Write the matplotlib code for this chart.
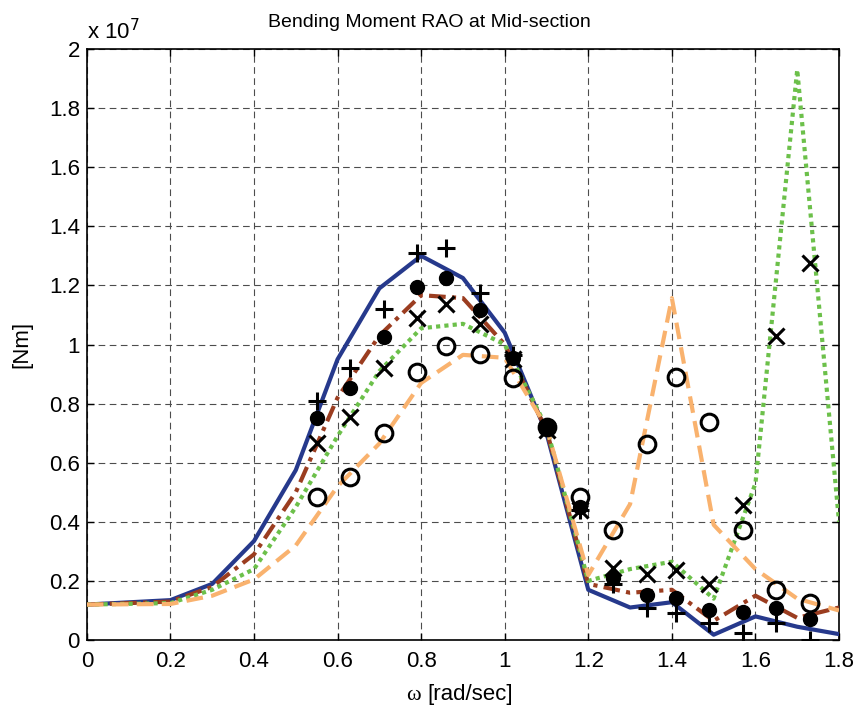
import numpy as np
import matplotlib
matplotlib.use("Agg")
import matplotlib.pyplot as plt
from matplotlib.ticker import FuncFormatter

plt.rcParams['font.family'] = ['Liberation Sans', 'DejaVu Sans']

# --- data (bending moment in Nm) ---
omega_line = [0.0, 0.2, 0.3, 0.4, 0.5, 0.6, 0.7, 0.8, 0.9, 1.0, 1.1, 1.2,
              1.3, 1.4, 1.5, 1.6, 1.7, 1.8]
line_blue = [0.12, 0.135, 0.19, 0.335, 0.575, 0.95, 1.19, 1.30, 1.225, 1.04, 0.70, 0.17,
             0.11, 0.128, 0.018, 0.08, 0.045, 0.02]
line_brown = [0.12, 0.13, 0.18, 0.29, 0.50, 0.82, 1.03, 1.167, 1.157, 1.0, 0.71, 0.19,
              0.16, 0.17, 0.065, 0.15, 0.075, 0.11]
line_green = [0.12, 0.125, 0.17, 0.24, 0.45, 0.69, 0.91, 1.055, 1.07, 1.0, 0.72, 0.20,
              0.24, 0.265, 0.14, 0.53, 1.93, 0.40]
line_orange = [0.12, 0.122, 0.15, 0.205, 0.32, 0.52, 0.665, 0.87, 0.965, 0.955, 0.72, 0.22,
               0.46, 1.157, 0.39, 0.24, 0.14, 0.10]

omega_pts = [0.55, 0.63, 0.71, 0.79, 0.86, 0.94, 1.02, 1.10, 1.18, 1.26, 1.34, 1.41,
             1.49, 1.57, 1.65, 1.73]
pts_plus = [0.81, 0.92, 1.12, 1.31, 1.325, 1.175, 0.965, 0.72, 0.44, 0.19, 0.11, 0.09,
            0.057, 0.024, 0.057, 0.0]
pts_dot = [0.75, 0.853, 1.025, 1.195, 1.225, 1.117, 0.955, 0.72, 0.45, 0.21, 0.153, 0.142,
           0.10, 0.096, 0.107, 0.07]
pts_x = [0.667, 0.756, 0.92, 1.09, 1.137, 1.07, 0.95, 0.71, 0.44, 0.243, 0.223, 0.237,
         0.19, 0.457, 1.03, 1.275]
pts_o = [0.485, 0.55, 0.70, 0.906, 0.995, 0.967, 0.887, 0.72, 0.485, 0.372, 0.663, 0.89,
         0.738, 0.372, 0.17, 0.125]

scale = 1e7
fs = 16

fig = plt.figure(figsize=(8.6, 7.08), dpi=100)
ax = fig.add_axes([0.101, 0.096, 0.8746, 0.8348])

ax.plot(omega_line, np.array(line_blue) * scale, color='#26398c', lw=3.0, zorder=3)
ax.plot(omega_line, np.array(line_brown) * scale, color='#9b3d20', lw=3.0,
        linestyle=(0, (4, 1.5, 1, 1.5)), zorder=3)
ax.plot(omega_line, np.array(line_green) * scale, color='#6cc04a', lw=3.0,
        linestyle=(0, (1, 1)), zorder=3)
ax.plot(omega_line, np.array(line_orange) * scale, color='#f9b26e', lw=3.0,
        linestyle=(0, (4, 2)), zorder=3)

ax.plot(omega_pts, np.array(pts_plus) * scale, '+', color='black', ms=13, mew=2.2, zorder=4)
ax.plot(omega_pts, np.array(pts_dot) * scale, 'o', color='black', ms=10, zorder=4)
ax.plot(omega_pts, np.array(pts_x) * scale, 'x', color='black', ms=12, mew=2.2, zorder=4)
ax.plot(omega_pts, np.array(pts_o) * scale, 'o', mfc='none', mec='black', ms=12, mew=2.2, zorder=4)

ax.set_xlim(0, 1.8)
ax.set_ylim(0, 2e7)
ax.set_xticks(np.arange(0, 1.81, 0.2))
ax.set_yticks(np.arange(0, 2.01e7, 0.2e7))
ax.xaxis.set_major_formatter(FuncFormatter(lambda v, p: f"{v:.1f}".rstrip('0').rstrip('.')))
ax.yaxis.set_major_formatter(FuncFormatter(lambda v, p: f"{v / scale:.1f}".rstrip('0').rstrip('.')))
ax.tick_params(direction='in', top=True, right=True, labelsize=fs, length=5, width=1)
ax.tick_params(axis='x', pad=8)
ax.tick_params(axis='y', pad=5)
ax.grid(True, color='0.3', linestyle=(0, (6, 4)), lw=0.8)
for s in ax.spines.values():
    s.set_linewidth(1.2)

ax.text(0.0, 1.008, 'x 10$^{7}$', transform=ax.transAxes, fontsize=fs, ha='left', va='bottom')
ax.set_title('Bending Moment RAO at Mid-section', fontsize=14, pad=16, x=0.456)
ax.set_ylabel('[Nm]', fontsize=fs, labelpad=12)

# x label: serif omega followed by sans text
ax.text(0.424, -0.1015, 'ω', transform=ax.transAxes, fontsize=fs,
        family=['Liberation Serif', 'DejaVu Serif'], ha='left', va='baseline')
ax.text(0.453, -0.1015, '[rad/sec]', transform=ax.transAxes, fontsize=fs,
        ha='left', va='baseline')

fig.savefig('out.png', dpi=100)
